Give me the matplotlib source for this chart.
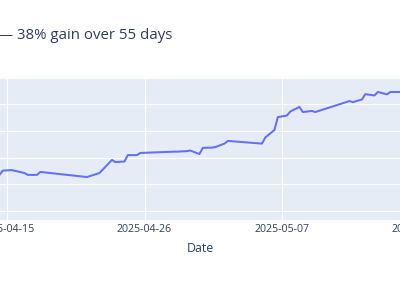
import numpy as np
import pandas as pd
import matplotlib
matplotlib.use("Agg")
import matplotlib.pyplot as plt
import matplotlib.dates as mdates

# open / close samples of each trading day (visible window only)
days = ["2025-04-14", "2025-04-15", "2025-04-16", "2025-04-17", "2025-04-21",
        "2025-04-22", "2025-04-23", "2025-04-24", "2025-04-25", "2025-04-28",
        "2025-04-29", "2025-04-30", "2025-05-01", "2025-05-02", "2025-05-05",
        "2025-05-06", "2025-05-07", "2025-05-08", "2025-05-09", "2025-05-12",
        "2025-05-13", "2025-05-14", "2025-05-15", "2025-05-16"]
open_vals = [113.5, 115.3, 114.2, 113.5, 112.7, 114.2, 119.1, 118.5, 120.9, 122.2,
             122.4, 121.3, 123.7, 125.2, 125.2, 130.3, 135.7, 138.9, 137.4, 141.1,
             141.7, 143.2, 143.6, 144.5]
close_vals = [115.1, 115.0, 113.5, 114.6, 113.1, 115.5, 118.3, 120.9, 121.7, 122.2,
              122.6, 123.6, 123.9, 126.2, 127.5, 135.1, 137.2, 137.0, 137.0, 140.7,
              143.7, 144.5, 144.5, 144.5]
tick_days = ["2025-04-15", "2025-04-26", "2025-05-07", "2025-05-18"]
title = "\u2014 38% gain over 55 days"

times, values = [], []
for d, o, c in zip(days, open_vals, close_vals):
    times += [pd.Timestamp(d + " 09:30"), pd.Timestamp(d + " 16:00")]
    values += [o, c]

INK = "#2a3f5f"
plt.rcParams["font.family"] = ["Open Sans", "DejaVu Sans"]

fig = plt.figure(figsize=(4.0, 2.84), dpi=100)
# plot area runs past the right edge of the (cropped) picture
ax = fig.add_axes([0.0, 64 / 284, 1.1, 141 / 284])
ax.set_facecolor("#E5ECF6")
for sp in ax.spines.values():
    sp.set_visible(False)

ax.plot(times, values, color="#636EFA", lw=1.45, solid_joinstyle="round", zorder=3)

ax.set_yticks([100, 110, 120, 130, 140])
ax.set_yticklabels([])
ax.set_xticks([pd.Timestamp(t) for t in tick_days])
ax.xaxis.set_major_formatter(mdates.DateFormatter("%Y-%m-%d"))
# limits after ticks so the ticks do not widen the view
x0 = pd.Timestamp("2025-04-15") - pd.Timedelta(days=0.56)
ax.set_xlim(x0, x0 + pd.Timedelta(days=35.2))
ax.set_ylim(96.64, 149.35)
ax.tick_params(length=0, labelsize=7.65, labelcolor=INK, pad=3)
ax.grid(color="white", lw=0.8)
ax.set_axisbelow(True)
ax.set_xlabel("Date", fontsize=8.9, color=INK)
ax.xaxis.label.set_va("center")
ax.xaxis.set_label_coords(200 / 440, -28 / 141)

fig.text(172 / 400, 1 - 35.5 / 284, title, ha="right", va="center",
         fontsize=10.8, color=INK)

fig.savefig("out.png", dpi=100)
